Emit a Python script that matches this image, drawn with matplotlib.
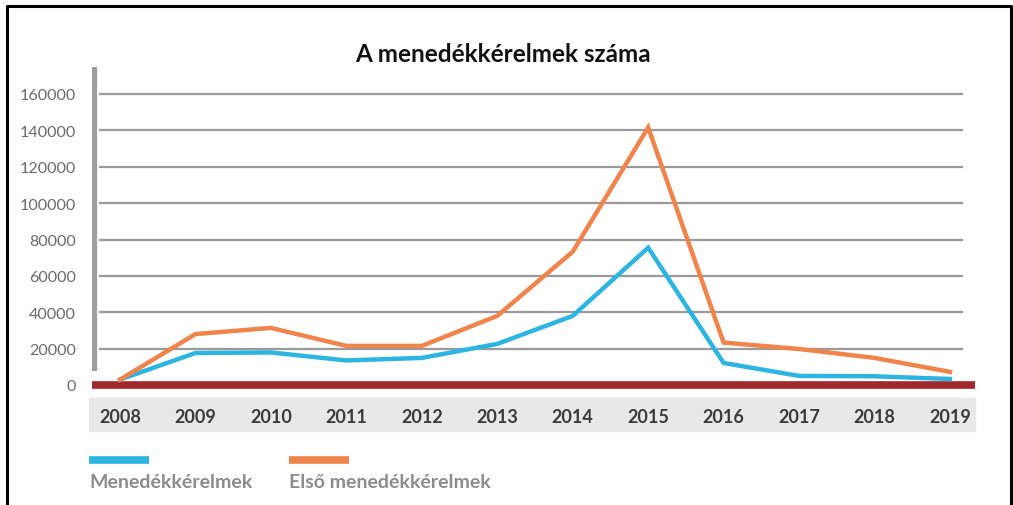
import matplotlib
matplotlib.use("Agg")
import matplotlib.pyplot as plt
from matplotlib.lines import Line2D
from matplotlib.patches import Rectangle

years = [2008, 2009, 2010, 2011, 2012, 2013, 2014, 2015, 2016, 2017, 2018, 2019]
menedek = [3000, 17600, 17900, 13500, 14900, 22600, 38000, 75500, 12100, 5000, 4800, 3300]
elso = [3000, 28000, 31400, 21500, 21500, 38000, 73300, 141600, 23300, 19800, 14900, 7200]
yticks = [0, 20000, 40000, 60000, 80000, 100000, 120000, 140000, 160000]
title = "A menedékkérelmek száma"
labels = ["Menedékkérelmek", "Első menedékkérelmek"]
c_blue = "#2db5e2"
c_orange = "#f0844a"
c_red = "#a3282e"

W, H = 1013, 506
fig = plt.figure(figsize=(W / 100, H / 100), dpi=100)

def fx(px):
    return px / W

def fy(py):
    return 1 - py / H

ax_l, ax_r, ax_t, ax_b = 92, 975, 68, 390
ax = fig.add_axes([fx(ax_l), fy(ax_b), fx(ax_r - ax_l), (ax_b - ax_t) / H])
per_year = (950 - 120) / 11
ax.set_xlim(2008 - (120 - ax_l) / per_year, 2019 + (ax_r - 950) / per_year)
per_unit = (385 - 94) / 160000
ax.set_ylim(-(ax_b - 386) / per_unit, (386 - ax_t) / per_unit)

for s in ax.spines.values():
    s.set_visible(False)

# gridlines
for v in yticks[1:]:
    ax.axhline(v, xmin=(100 - ax_l) / (ax_r - ax_l), xmax=(962 - ax_l) / (ax_r - ax_l),
               color="#9a9a9a", lw=1.6, zorder=1)
# grey vertical bar
ax.axvline(ax.get_xlim()[0] + 1.5 / per_year, ymin=(ax_b - 372) / (ax_b - ax_t), ymax=1,
           color="#9d9d9d", lw=4.5, zorder=1, solid_capstyle="butt")
# red baseline
ax.axhline(0, color=c_red, lw=5.5, zorder=2)

ax.plot(years, menedek, color=c_blue, lw=3.2, zorder=3, solid_joinstyle="miter")
ax.plot(years, elso, color=c_orange, lw=3.2, zorder=3, solid_joinstyle="miter")

ax.set_yticks(yticks)
ax.set_yticklabels([str(v) for v in yticks], fontsize=11.6, color="#6a6a6a", family="Lato")
ax.tick_params(axis="y", length=0, pad=11.5)
ax.set_xticks(years)
ax.set_xticklabels([str(y) for y in years], fontsize=13, color="#3a3a3a",
                   family="Lato", fontweight="bold")
ax.tick_params(axis="x", length=0, pad=13.5)

# grey band behind year labels
fig.add_artist(Rectangle((fx(89), fy(432)), fx(975 - 89), (432 - 399) / H,
                         transform=fig.transFigure, color="#e8e8e8", zorder=0))

fig.text(fx(503), fy(55), title, ha="center", va="center", fontsize=17.5,
         fontweight="bold", family="Lato", color="#111111")

# legend
for x0, col, lab in [(89, c_blue, labels[0]), (289, c_orange, labels[1])]:
    fig.add_artist(Line2D([fx(x0), fx(x0 + 60)], [fy(461), fy(461)], color=col, lw=5.5,
                          transform=fig.transFigure, solid_capstyle="butt"))
    fig.text(fx(x0), fy(483), lab, ha="left", va="center", fontsize=14,
             fontweight="bold", color="#8c8c8c", family="Lato")

# border (left, top, right)
fig.add_artist(Line2D([fx(7), fx(7), fx(1011), fx(1011)], [0, fy(7), fy(7), 0],
                      transform=fig.transFigure, color="black", lw=2.2))

fig.savefig("out.png", dpi=100)
